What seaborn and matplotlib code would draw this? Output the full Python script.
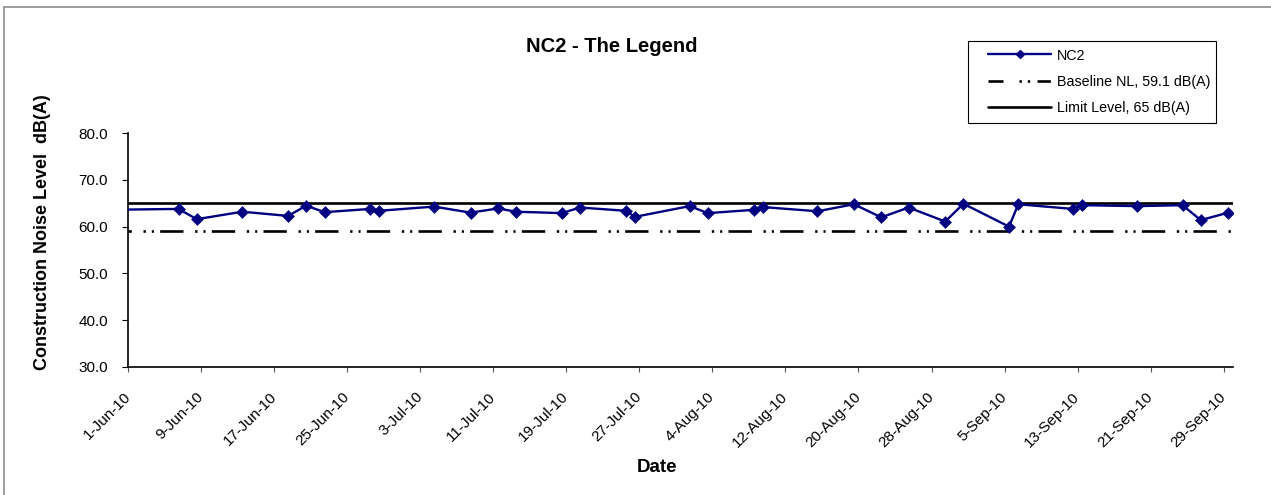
import matplotlib
matplotlib.use("Agg")
import matplotlib.pyplot as plt
import matplotlib.ticker as mticker
from matplotlib.lines import Line2D
from matplotlib.patches import Rectangle
import pandas as pd
import seaborn as sns

# Measured noise levels at NC2 (dB(A)), one reading per date
dates = [
    "2010-05-29", "2010-06-06", "2010-06-08", "2010-06-13", "2010-06-18",
    "2010-06-20", "2010-06-22", "2010-06-27", "2010-06-28", "2010-07-04",
    "2010-07-08", "2010-07-11", "2010-07-13", "2010-07-18", "2010-07-20",
    "2010-07-25", "2010-07-26", "2010-08-01", "2010-08-03", "2010-08-08",
    "2010-08-09", "2010-08-15", "2010-08-19", "2010-08-22", "2010-08-25",
    "2010-08-29", "2010-08-31", "2010-09-05", "2010-09-06", "2010-09-12",
    "2010-09-13", "2010-09-19", "2010-09-24", "2010-09-26", "2010-09-29",
]
levels = [
    63.6, 63.8, 61.6, 63.2, 62.3,
    64.5, 63.1, 63.8, 63.4, 64.3,
    63.0, 63.9, 63.2, 62.9, 64.1,
    63.4, 62.1, 64.4, 62.9, 63.6,
    64.2, 63.3, 64.8, 62.0, 64.1,
    61.1, 64.9, 60.0, 64.8, 63.8,
    64.6, 64.4, 64.6, 61.4, 63.0,
]

baseline_level = 59.1
limit_level = 65.0

series_label = "NC2"
baseline_label = "Baseline NL, 59.1 dB(A)"
limit_label = "Limit Level, 65 dB(A)"
chart_title = "NC2 - The Legend"
y_title = "Construction Noise Level  dB(A)"
x_title = "Date"

x_start = "2010-06-01"
x_end = "2010-09-30"
tick_dates = pd.date_range(x_start, "2010-09-29", freq="8D")
tick_labels = [
    "1-Jun-10", "9-Jun-10", "17-Jun-10", "25-Jun-10", "3-Jul-10",
    "11-Jul-10", "19-Jul-10", "27-Jul-10", "4-Aug-10", "12-Aug-10",
    "20-Aug-10", "28-Aug-10", "5-Sep-10", "13-Sep-10", "21-Sep-10",
    "29-Sep-10",
]
y_ticks = [30, 40, 50, 60, 70, 80]

sns.set_theme(style="white")
plt.rcParams["font.family"] = ["Liberation Sans", "DejaVu Sans"]
plt.rcParams.update({
    "lines.scale_dashes": False,
    "text.color": "black",
    "axes.labelcolor": "black",
    "xtick.color": "black",
    "ytick.color": "black",
})

W, H = 1271, 495
fig = plt.figure(figsize=(W / 100, H / 100), dpi=100)
fig.patch.set_facecolor("white")

ax_left, ax_right, ax_top, ax_bottom = 128.3, 1232.7, 133.3, 366.7
ax = fig.add_axes([ax_left / W, 1 - ax_bottom / H,
                   (ax_right - ax_left) / W, (ax_bottom - ax_top) / H])

# each daily reading sits in the middle of its day slot
df = pd.DataFrame({
    "date": pd.to_datetime(dates) + pd.Timedelta(hours=12),
    "level": levels,
})

navy = "#000080"
baseline_style = (14.4, (16.8, 8.4, 1.7, 4.3, 1.5, 4.5))

ax.axhline(baseline_level, color="black", lw=1.9, linestyle=baseline_style, zorder=2)
ax.axhline(limit_level, color="black", lw=1.9, zorder=2)

sns.lineplot(data=df, x="date", y="level", ax=ax, color=navy, lw=1.7,
             marker="D", markersize=5.8, markeredgecolor=navy,
             markeredgewidth=0.4, legend=False, zorder=3)

ax.set_xlim(pd.Timestamp(x_start), pd.Timestamp(x_end))
ax.set_ylim(y_ticks[0], y_ticks[-1])
ax.set_xticks(tick_dates)
ax.set_xticklabels(tick_labels, rotation=45, ha="right", va="center",
                   rotation_mode="anchor", fontsize=11)
ax.set_yticks(y_ticks)
ax.yaxis.set_major_formatter(mticker.FormatStrFormatter("%.1f"))
ax.tick_params(axis="y", direction="out", length=4, width=0.8, color="black",
               pad=10.5, labelsize=11, left=True)
ax.tick_params(axis="x", direction="out", length=3.5, width=0.8, color="#555555",
               pad=16.5, bottom=True)
ax.set_xlabel("")
ax.set_ylabel("")
for side in ("top", "right"):
    ax.spines[side].set_visible(False)
for side in ("left", "bottom"):
    ax.spines[side].set_color("black")
    ax.spines[side].set_linewidth(1.2)
ax.grid(False)

fig.text(611.7 / W, 1 - 46.7 / H, chart_title, ha="center", va="center",
         fontsize=14.5, fontweight="bold", color="black")
fig.text(43 / W, 1 - 232.5 / H, y_title, ha="center", va="center",
         rotation=90, fontsize=13, fontweight="bold", color="black")
fig.text(657 / W, 1 - 467 / H, x_title, ha="center", va="center",
         fontsize=13.5, fontweight="bold", color="black")

# legend
handles = [
    Line2D([], [], color=navy, lw=1.7, marker="D", markersize=3.6,
           markeredgecolor=navy),
    Line2D([], [], color="black", lw=1.9,
           linestyle=(0, (10.8, 11.5, 1.7, 4.3, 1.7, 5.3, 9.6, 20))),
    Line2D([], [], color="black", lw=1.9),
]
ax.legend(handles, [series_label, baseline_label, limit_label],
          loc="upper left", bbox_to_anchor=(988.3 / W, 1 - 48.5 / H),
          bbox_transform=fig.transFigure, frameon=False, fontsize=10.3,
          handlelength=4.4, handletextpad=0.42, borderpad=0,
          borderaxespad=0, labelspacing=0.87, labelcolor="black")
fig.add_artist(Rectangle((968.3 / W, 1 - 123 / H), (1216 - 968.3) / W,
                         (123 - 41.3) / H, transform=fig.transFigure,
                         fill=False, edgecolor="black", lw=0.8))

# chart area border
frame_color = "#8c8c8c"
fig.add_artist(Line2D([3.8 / W, 1], [1 - 6.5 / H, 1 - 6.5 / H],
                      transform=fig.transFigure, color=frame_color, lw=1.2))
fig.add_artist(Line2D([3.8 / W, 3.8 / W], [0, 1 - 6.5 / H],
                      transform=fig.transFigure, color=frame_color, lw=1.2))

fig.savefig("out.png", dpi=100, facecolor="white")
